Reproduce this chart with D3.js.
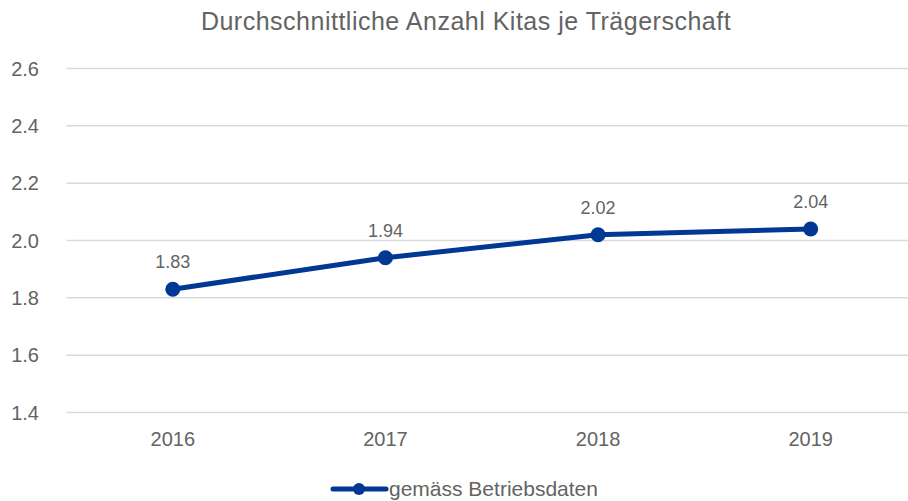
<!DOCTYPE html>
<html lang="de">
<head>
<meta charset="utf-8">
<title>Durchschnittliche Anzahl Kitas je Trägerschaft</title>
<style>
  body { margin: 0; background: #fff; }
  svg text { font-family: "Liberation Sans", Arial, sans-serif; fill: #636363; }
  .grid line { stroke: #d9d9d9; stroke-width: 1.5px; }
</style>
</head>
<body>
<svg width="908" height="501"></svg>
<script src="https://d3js.org/d3.v7.min.js"></script>
<script>
var years = ['2016', '2017', '2018', '2019'];
var values = [1.83, 1.94, 2.02, 2.04];
var yTicks = [1.4, 1.6, 1.8, 2.0, 2.2, 2.4, 2.6];
var seriesName = 'gemäss Betriebsdaten';

var svg = d3.select('svg');
var blue = '#003893';

var x = d3.scaleBand().domain(years).range([66.5, 917]);
var y = d3.scaleLinear().domain([1.4, 2.6]).range([412.5, 68.5]);

// title
svg.append('text')
  .attr('x', 466).attr('y', 30)
  .attr('text-anchor', 'middle')
  .style('font-size', '25px').style('letter-spacing', '0.5px')
  .text('Durchschnittliche Anzahl Kitas je Trägerschaft');

// gridlines
svg.append('g').attr('class', 'grid')
  .selectAll('line').data(yTicks).enter().append('line')
  .attr('x1', 66.5).attr('x2', 908)
  .attr('y1', function(d) { return y(d); })
  .attr('y2', function(d) { return y(d); });

// y tick labels
svg.append('g').selectAll('text').data(yTicks).enter().append('text')
  .attr('x', 39).attr('y', function(d) { return y(d); })
  .attr('dy', '0.35em')
  .attr('text-anchor', 'end')
  .style('font-size', '20px')
  .text(function(d) { return d.toFixed(1); });

// x labels
svg.append('g').selectAll('text').data(years).enter().append('text')
  .attr('x', function(d) { return x(d) + x.bandwidth() / 2; })
  .attr('y', 446)
  .attr('text-anchor', 'middle')
  .style('font-size', '20px')
  .text(function(d) { return d; });

var pts = years.map(function(d, i) { return { year: d, v: values[i] }; });
var cx = function(d) { return x(d.year) + x.bandwidth() / 2; };

svg.append('path').datum(pts)
  .attr('fill', 'none').attr('stroke', blue).attr('stroke-width', 5)
  .attr('stroke-linejoin', 'round')
  .attr('d', d3.line().x(cx).y(function(d) { return y(d.v); }));

svg.append('g').selectAll('circle').data(pts).enter().append('circle')
  .attr('cx', cx).attr('cy', function(d) { return y(d.v); })
  .attr('r', 7.5).attr('fill', blue);

// data labels
svg.append('g').selectAll('text').data(pts).enter().append('text')
  .attr('x', cx).attr('y', function(d) { return y(d.v) - 21; })
  .attr('text-anchor', 'middle')
  .style('font-size', '18px')
  .text(function(d) { return d.v.toFixed(2); });

// legend
var lg = svg.append('g');
lg.append('line').attr('x1', 333).attr('x2', 386).attr('y1', 489).attr('y2', 489)
  .attr('stroke', blue).attr('stroke-width', 5).attr('stroke-linecap', 'round');
lg.append('circle').attr('cx', 359).attr('cy', 489).attr('r', 6).attr('fill', blue);
lg.append('text').attr('x', 389).attr('y', 496)
  .style('font-size', '21px')
  .text(seriesName);
</script>
</body>
</html>
